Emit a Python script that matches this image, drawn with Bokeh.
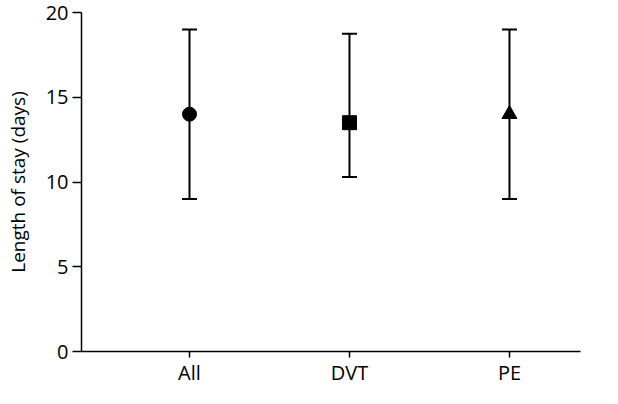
from bokeh.plotting import figure
from bokeh.models import ColumnDataSource, Range1d, FixedTicker, Whisker, TeeHead
from bokeh.embed import file_html
from bokeh.resources import INLINE

categories = ["All", "DVT", "PE"]
positions = [1, 2, 3]
medians = [14.0, 13.5, 14.0]
lower = [9.0, 10.3, 9.0]
upper = [19.0, 18.75, 19.0]
y_ticks = [0, 5, 10, 15, 20]

FONT = "Open Sans"

p = figure(width=602, height=388, output_backend="svg", toolbar_location=None,
           x_range=Range1d(0.325, 3.444), y_range=Range1d(0, 20),
           min_border_left=81, min_border_right=22, min_border_top=12, min_border_bottom=30)
p.outline_line_color = None
p.xgrid.grid_line_color = None
p.ygrid.grid_line_color = None

src = ColumnDataSource(dict(x=positions, y=medians, lo=lower, hi=upper))

w = Whisker(source=src, base="x", lower="lo", upper="hi", dimension="height",
            line_color="black", line_width=2,
            upper_head=TeeHead(size=15, line_width=2, line_color="black"),
            lower_head=TeeHead(size=15, line_width=2, line_color="black"))
p.add_layout(w)

markers = ["circle", "square", "triangle"]
sizes = [14, 14, 15]
for i in range(3):
    s = ColumnDataSource(dict(x=[positions[i]], y=[medians[i]]))
    p.scatter("x", "y", source=s, marker=markers[i], size=sizes[i],
              fill_color="black", line_color="black")

p.xaxis.ticker = FixedTicker(ticks=positions)
p.xaxis.major_label_overrides = {pos: c for pos, c in zip(positions, categories)}
p.yaxis.ticker = FixedTicker(ticks=y_ticks)
p.yaxis.axis_label = "Length of stay (days)"

for ax in (p.xaxis[0], p.yaxis[0]):
    ax.axis_line_color = "black"
    ax.axis_line_width = 1.5
    ax.major_tick_line_color = "black"
    ax.major_tick_line_width = 1.5
    ax.major_tick_out = 9
    ax.major_tick_in = 0
    ax.minor_tick_line_color = None
    ax.major_label_text_font = FONT
    ax.major_label_text_font_size = "20px"
    ax.major_label_text_color = "black"
    ax.axis_label_text_font = FONT
    ax.axis_label_text_font_size = "19px"
    ax.axis_label_text_font_style = "normal"
    ax.axis_label_text_color = "black"

p.xaxis.major_tick_out = 6
p.xaxis.major_label_standoff = 1
p.yaxis.major_label_standoff = 4
p.yaxis.axis_label_standoff = 12

open("out.html", "w").write(file_html(p, INLINE))
